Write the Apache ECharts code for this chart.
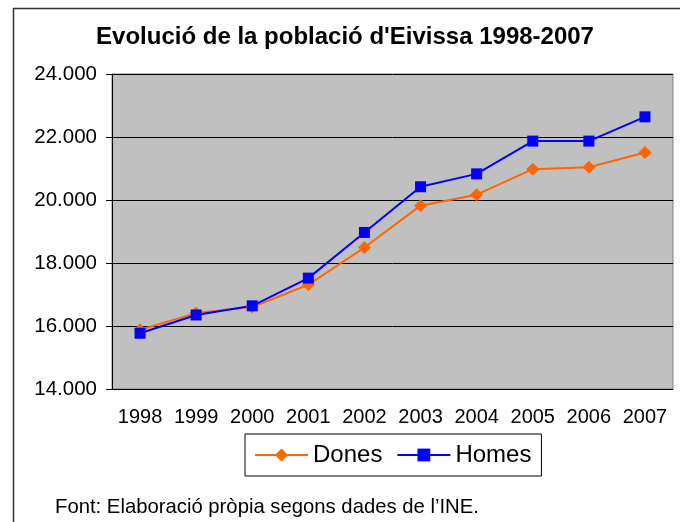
<!DOCTYPE html>
<html>
<head>
<meta charset="utf-8">
<script src="https://cdn.jsdelivr.net/npm/echarts@6/dist/echarts.min.js"></script>
<style>
  html, body { margin: 0; padding: 0; background: #fff; }
  #chart { width: 680px; height: 522px; }
</style>
</head>
<body>
<div id="chart"></div>
<script>
"use strict";
const YEARS = ["1998", "1999", "2000", "2001", "2002", "2003", "2004", "2005", "2006", "2007"];
const DONES = [15880, 16410, 16600, 17310, 18490, 19820, 20170, 20980, 21040, 21510];
const HOMES = [15770, 16350, 16640, 17520, 18970, 20420, 20830, 21870, 21870, 22640];
const Y_MIN = 14000, Y_MAX = 24000, Y_STEP = 2000;

const FONT = "Liberation Sans, Arial, sans-serif";
const fmt = (v) => String(v).replace(/\B(?=(\d{3})+(?!\d))/g, ".");

const chart = echarts.init(document.getElementById("chart"), null, { renderer: "canvas" });
chart.setOption({
  animation: false,
  backgroundColor: "#fff",
  textStyle: { fontFamily: FONT, color: "#000" },
  title: {
    text: "Evolució de la població d'Eivissa 1998-2007",
    left: 340, top: 20, textAlign: "center",
    textStyle: { fontFamily: FONT, fontSize: 24, fontWeight: "bold", color: "#000" }
  },
  grid: {
    left: 112, right: 7, top: 74, bottom: 133,
    show: true, backgroundColor: "#C0C0C0", borderColor: "#808080", borderWidth: 1
  },
  xAxis: {
    type: "category", data: YEARS, boundaryGap: true,
    axisLine: { lineStyle: { color: "#000", width: 1 } },
    axisTick: { length: 5, lineStyle: { color: "#000" } },
    axisLabel: { interval: 0, fontSize: 20, color: "#000", margin: 18, fontFamily: FONT }
  },
  yAxis: {
    type: "value", min: Y_MIN, max: Y_MAX, interval: Y_STEP,
    axisLine: { show: true, lineStyle: { color: "#000", width: 1 } },
    axisTick: { show: true, length: 6, lineStyle: { color: "#000" } },
    axisLabel: { fontSize: 20.5, color: "#000", margin: 15, fontFamily: FONT, formatter: fmt },
    splitLine: { lineStyle: { color: "#000", width: 1 } }
  },
  legend: {
    left: 245, top: 434,
    padding: [9, 10, 9, 9], itemGap: 14,
    borderColor: "#000", borderWidth: 1, backgroundColor: "#fff",
    itemWidth: 53, itemHeight: 16,
    textStyle: { fontSize: 24, color: "#000", fontFamily: FONT },
    data: ["Dones", "Homes"]
  },
  series: [
    { name: "Dones", type: "line", data: DONES,
      symbol: "diamond", symbolSize: 13, showAllSymbol: true,
      lineStyle: { color: "#FF6600", width: 2 }, itemStyle: { color: "#FF6600" } },
    { name: "Homes", type: "line", data: HOMES,
      symbol: "rect", symbolSize: 11, showAllSymbol: true,
      lineStyle: { color: "#0000FF", width: 2 }, itemStyle: { color: "#0000FF" } }
  ],
  graphic: [
    { type: "rect", left: 11, top: 6, silent: true, z: -1,
      shape: { width: 760, height: 600 },
      style: { fill: "none", stroke: "#333", lineWidth: 1.5 } },
    { type: "text", left: 55, top: 497,
      style: { text: "Font: Elaboració pròpia segons dades de l’INE.",
        font: "20.3px Liberation Sans, Arial, sans-serif", fill: "#000" } }
  ]
});
</script>
</body>
</html>
